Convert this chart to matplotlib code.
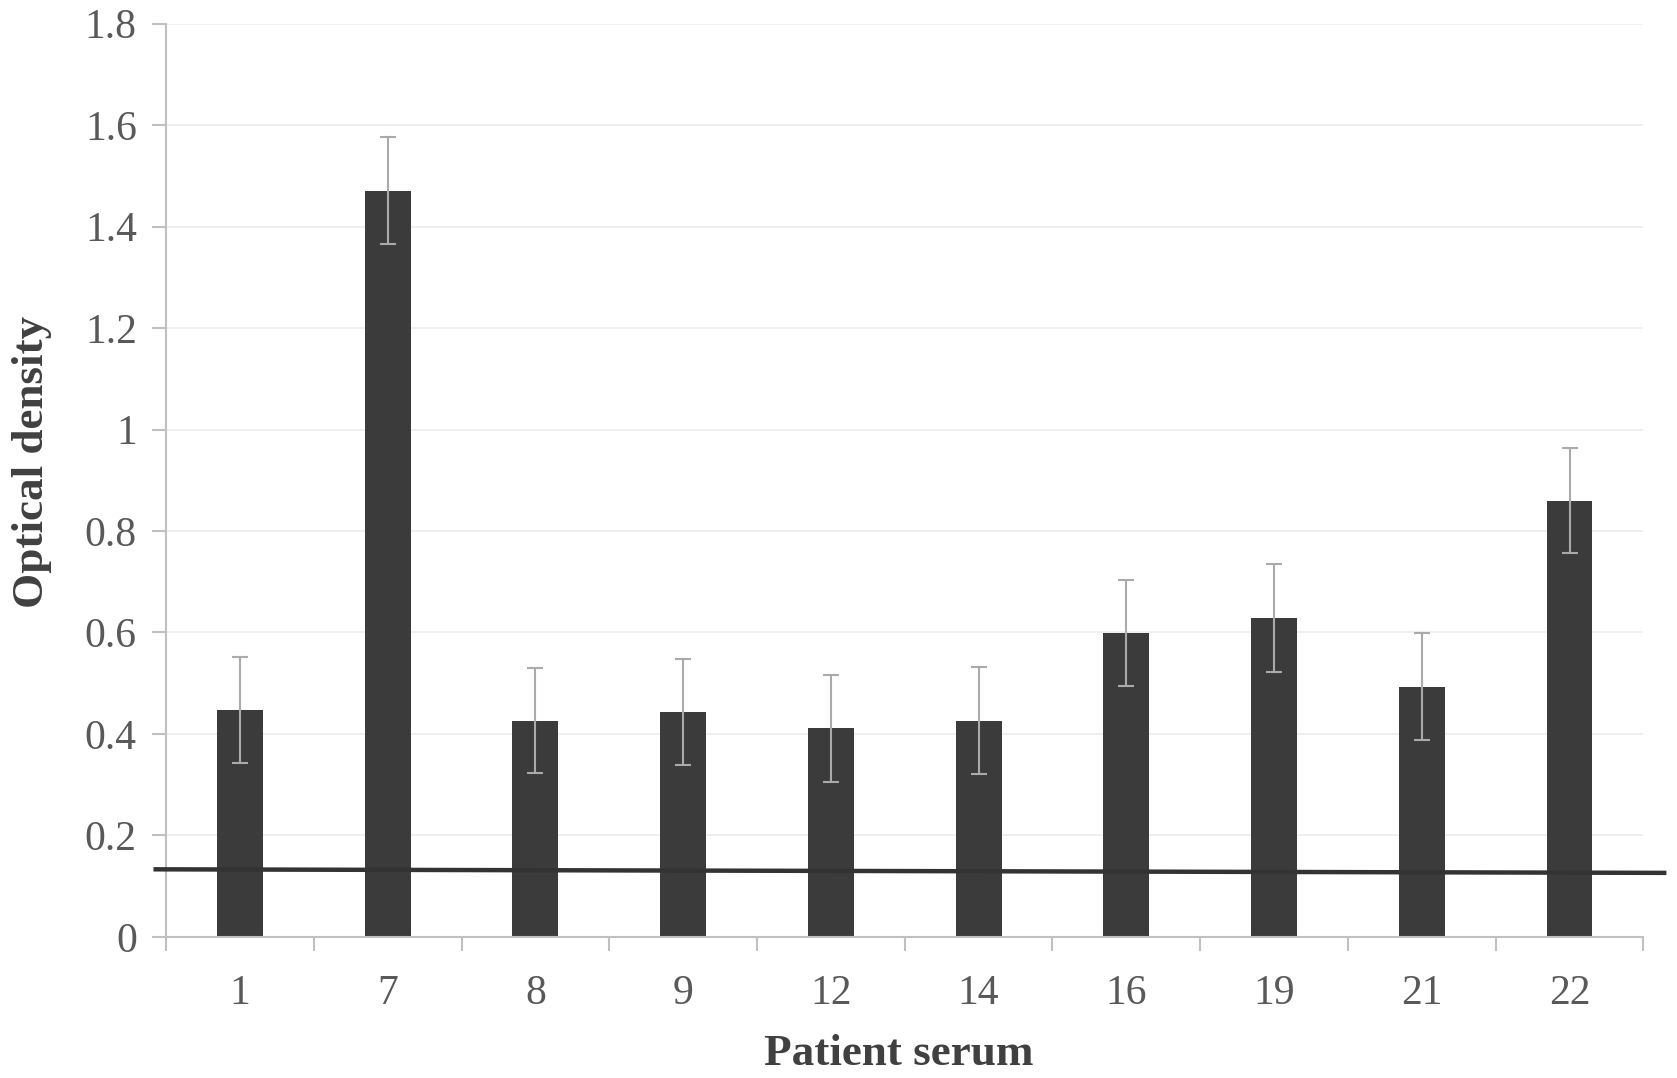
import numpy as np
import matplotlib
matplotlib.use("Agg")
import matplotlib.pyplot as plt

# patient serum optical density (mean +/- error)
patients = ["1", "7", "8", "9", "12", "14", "16", "19", "21", "22"]
od_mean = [0.447, 1.471, 0.426, 0.443, 0.411, 0.426, 0.599, 0.628, 0.493, 0.860]
od_err = [0.104, 0.105, 0.104, 0.105, 0.105, 0.105, 0.105, 0.106, 0.105, 0.104]
cutoff_x = [-0.57, 9.64]
cutoff_y = [0.133, 0.126]
y_ticks = [0, 0.2, 0.4, 0.6, 0.8, 1, 1.2, 1.4, 1.6, 1.8]

plt.rcParams['font.family'] = ['Liberation Serif', 'DejaVu Serif']

fig = plt.figure(figsize=(16.77, 10.78), dpi=100)
ax = fig.add_axes([0.099, 0.131, 0.881, 0.847])

x = np.arange(len(patients))
ax.bar(x, od_mean, width=0.31, color='#3b3b3b', zorder=2)
ax.errorbar(x, od_mean, yerr=od_err, fmt='none', ecolor='#aaaaaa',
            elinewidth=1.5, capsize=6, capthick=1.5, zorder=3)
ax.plot(cutoff_x, cutoff_y, color='#333333', lw=3.2, clip_on=False, zorder=4)

ax.set_xlim(-0.5, len(patients) - 0.5)
ax.set_ylim(0, 1.8)
ax.set_yticks(y_ticks)
ax.set_yticklabels([f"{t:g}" for t in y_ticks])
ax.set_xticks(x)
ax.set_xticklabels(patients)
ax.set_xticks(np.arange(-0.5, len(patients)), minor=True)

ax.yaxis.grid(True, color='#ececec', lw=1.2, zorder=0)
ax.set_axisbelow(True)

for side in ['top', 'right']:
    ax.spines[side].set_visible(False)
for side in ['left', 'bottom']:
    ax.spines[side].set_color('#c0c0c0')
    ax.spines[side].set_linewidth(1.5)

ax.tick_params(axis='y', length=10, width=1.5, color='#c0c0c0',
               labelsize=30, labelcolor='#595959', pad=11)
ax.tick_params(axis='x', which='major', length=0, labelsize=30,
               labelcolor='#595959', pad=27)
ax.tick_params(axis='x', which='minor', length=10, width=1.5, color='#c0c0c0')

ax.set_xlabel("Patient serum", fontsize=32.5, fontweight='bold',
              color='#404040')
ax.set_ylabel("Optical density", fontsize=32.5, fontweight='bold',
              color='#404040')
ax.xaxis.set_label_coords(0.496, -0.107)
ax.yaxis.set_label_coords(-0.077, 0.52)

fig.savefig("out.png", dpi=100)
plt.close(fig)
